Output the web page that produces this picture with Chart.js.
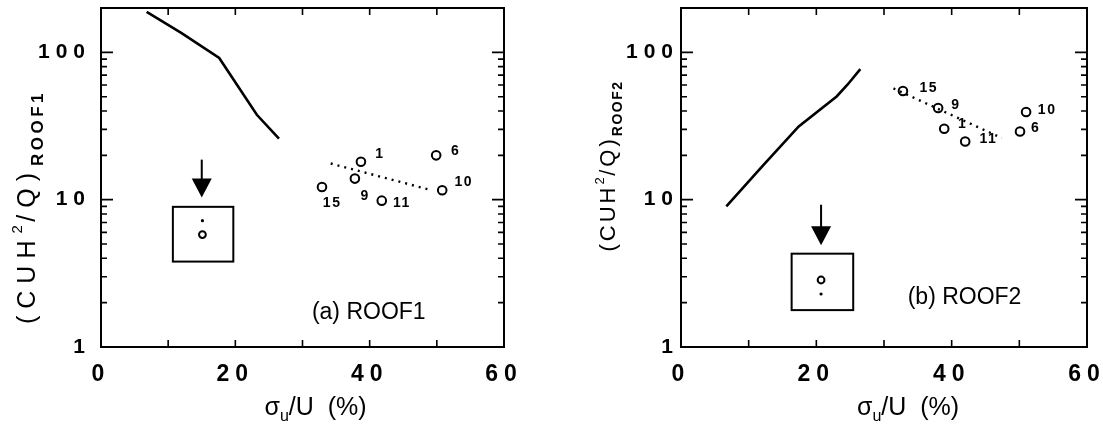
<!DOCTYPE html>
<html>
<head>
<meta charset="utf-8">
<script src="https://cdn.jsdelivr.net/npm/chart.js@4.4.0/dist/chart.umd.min.js"></script>
<style>
html,body{margin:0;padding:0;background:#fff;}
#wrap{position:relative;width:1103px;height:434px;overflow:hidden;background:#fff;}
canvas{position:absolute;top:0;}
#c1{left:0;}
#c2{left:560px;}
</style>
</head>
<body>
<div id="wrap">
<canvas id="c1" width="560" height="434"></canvas>
<canvas id="c2" width="543" height="434"></canvas>
</div>
<script>
// ---------- axis ticks ----------
const xTicks = [0, 10, 20, 30, 40, 50, 60];
const xTickLabels = ['0', '', '20', '', '40', '', '60'];
const yTicks = [1, 2, 3, 4, 5, 6, 7, 8, 9, 10, 20, 30, 40, 50, 60, 70, 80, 90, 100, 200];
const yTickLabels = ['1', '', '', '', '', '', '', '', '', '10', '', '', '', '', '', '', '', '', '100', ''];

// ---------- panel (a) ROOF1 ----------
const roof1CurveX = [6.8, 12.0, 17.6, 23.2, 26.5];
const roof1CurveY = [188, 135, 91.5, 37.7, 26];
const roof1FitX = [34.2, 49.2];
const roof1FitY = [17.6, 11.6];
const roof1CaseIds = ['15', '1', '9', '11', '6', '10'];
const roof1CaseX = [32.9, 38.7, 37.8, 41.8, 49.9, 50.8];
const roof1CaseY = [12.2, 18.1, 13.9, 9.85, 20.0, 11.6];
const roof1InsetX = [15.1, 15.1];
const roof1InsetY = [7.2, 5.8];
const roof1InsetKind = ['dot', 'circle'];

// ---------- panel (b) ROOF2 ----------
const roof2CurveX = [6.7, 12.0, 17.4, 23.0, 24.6, 26.5];
const roof2CurveY = [9.0, 16.8, 31.4, 50.2, 60.3, 77];
const roof2FitX = [31.4, 47.4];
const roof2FitY = [56.9, 26.2];
const roof2CaseIds = ['15', '9', '1', '11', '6', '10'];
const roof2CaseX = [32.8, 38.0, 38.9, 42.0, 50.1, 51.0];
const roof2CaseY = [54.6, 41.9, 30.3, 24.8, 29.0, 39.4];
const roof2InsetX = [20.7, 20.7];
const roof2InsetY = [2.85, 2.29];
const roof2InsetKind = ['circle', 'dot'];

const FONT = "'Liberation Sans', Arial, Helvetica, sans-serif";

function pairs(xs, ys) { return xs.map((x, i) => ({ x: x, y: ys[i] })); }

// annotation layout (data units)
const panels = [
  {
    canvas: 'c1', padLeft: 101, padRight: 56, yLabelPad: 10,
    curveX: roof1CurveX, curveY: roof1CurveY, fitX: roof1FitX, fitY: roof1FitY,
    caseIds: roof1CaseIds, caseX: roof1CaseX, caseY: roof1CaseY,
    insetX: roof1InsetX, insetY: roof1InsetY, insetKind: roof1InsetKind,
    caseLabelPos: [[34.3, 9.4], [41.4, 20.5], [39.2, 10.6], [44.7, 9.5], [52.7, 21.3], [53.9, 13.2]],
    insetBox: { x0: 10.7, x1: 19.7, y0: 3.8, y1: 8.94 },
    arrow: { x: 15.0, yTop: 18.7, yTip: 10.35 },
    tag: { text: '(a) ROOF1', x: 31.4, y: 1.71 },
    ySub: 'ROOF1', xTitleShift: 13,
    yTitle: { cy: 207, main: 25, mainLs: 7, sup: 15, sub: 17, subLs: 3.5, dx: -66 }
  },
  {
    canvas: 'c2', padLeft: 121, padRight: 16, yLabelPad: 2,
    curveX: roof2CurveX, curveY: roof2CurveY, fitX: roof2FitX, fitY: roof2FitY,
    caseIds: roof2CaseIds, caseX: roof2CaseX, caseY: roof2CaseY,
    insetX: roof2InsetX, insetY: roof2InsetY, insetKind: roof2InsetKind,
    caseLabelPos: [[36.5, 57.5], [40.5, 43.7], [41.5, 32.7], [45.3, 25.8], [52.3, 30.5], [54.0, 40.8]],
    insetBox: { x0: 16.35, x1: 25.45, y0: 1.78, y1: 4.3 },
    arrow: { x: 20.7, yTop: 9.24, yTip: 4.91 },
    tag: { text: '(b) ROOF2', x: 33.5, y: 2.17 },
    ySub: 'ROOF2', xTitleShift: 24,
    yTitle: { cy: 166, main: 22, mainLs: 3, sup: 13, sub: 14, subLs: 1.5, dx: -66 }
  }
];

function drawParts(ctx, parts, x0, y0) {
  let x = x0;
  parts.forEach(p => {
    ctx.font = p.f;
    ctx.letterSpacing = (p.ls || 0) + 'px';
    ctx.fillText(p.t, x, y0 + (p.dy || 0));
    x += ctx.measureText(p.t).width;
  });
}
function partsWidth(ctx, parts) {
  let w = 0;
  parts.forEach(p => { ctx.font = p.f; ctx.letterSpacing = (p.ls || 0) + 'px'; w += ctx.measureText(p.t).width; });
  return w;
}

const framePlugin = {
  id: 'frame',
  beforeDraw(chart) {
    chart.ctx.letterSpacing = '6px';
  },
  afterDraw(chart, args, opts) {
    const P = opts.panel;
    const ctx = chart.ctx, a = chart.chartArea;
    const xs = chart.scales.x, ys = chart.scales.y;
    ctx.save();
    ctx.letterSpacing = '0px';
    ctx.strokeStyle = '#000';
    ctx.fillStyle = '#000';
    // inward ticks
    ctx.lineWidth = 1.6;
    ctx.beginPath();
    xTicks.forEach(v => {
      if (v <= xs.min || v >= xs.max) return;
      const px = xs.getPixelForValue(v);
      ctx.moveTo(px, a.bottom); ctx.lineTo(px, a.bottom - 7);
      ctx.moveTo(px, a.top); ctx.lineTo(px, a.top + 7);
    });
    yTicks.forEach(v => {
      if (v <= ys.min || v >= ys.max) return;
      const py = ys.getPixelForValue(v);
      const len = (v === 10 || v === 100) ? 12 : 6;
      ctx.moveTo(a.left, py); ctx.lineTo(a.left + len, py);
      ctx.moveTo(a.right, py); ctx.lineTo(a.right - len, py);
    });
    ctx.stroke();
    // frame
    ctx.lineWidth = 2;
    ctx.strokeRect(a.left, a.top, a.right - a.left, a.bottom - a.top);

    // inset box
    const b = P.insetBox;
    const bx0 = xs.getPixelForValue(b.x0), bx1 = xs.getPixelForValue(b.x1);
    const by0 = ys.getPixelForValue(b.y1), by1 = ys.getPixelForValue(b.y0);
    ctx.lineWidth = 2;
    ctx.strokeRect(bx0, by0, bx1 - bx0, by1 - by0);

    // arrow
    const ax = xs.getPixelForValue(P.arrow.x);
    const ayTop = ys.getPixelForValue(P.arrow.yTop);
    const ayTip = ys.getPixelForValue(P.arrow.yTip);
    const headH = 19, headW = 20;
    ctx.lineWidth = 2;
    ctx.beginPath();
    ctx.moveTo(ax, ayTop); ctx.lineTo(ax, ayTip - headH + 2);
    ctx.stroke();
    ctx.beginPath();
    ctx.moveTo(ax - headW / 2, ayTip - headH);
    ctx.lineTo(ax + headW / 2, ayTip - headH);
    ctx.lineTo(ax, ayTip);
    ctx.closePath();
    ctx.fill();

    // case labels
    ctx.font = 'bold 14px ' + FONT;
    ctx.letterSpacing = '1.5px';
    ctx.textAlign = 'center';
    ctx.textBaseline = 'middle';
    P.caseIds.forEach((id, i) => {
      const pos = P.caseLabelPos[i];
      ctx.fillText(id, xs.getPixelForValue(pos[0]) + 0.75, ys.getPixelForValue(pos[1]));
    });

    // panel tag
    ctx.letterSpacing = '0px';
    ctx.font = '23px ' + FONT;
    ctx.textAlign = 'left';
    ctx.fillText(P.tag.text, xs.getPixelForValue(P.tag.x), ys.getPixelForValue(P.tag.y));

    // x title
    ctx.textBaseline = 'alphabetic';
    const xParts = [
      { t: 'σ', f: '25px ' + FONT },
      { t: 'u', f: '16px ' + FONT, dy: 6 },
      { t: '/U  (%)', f: '25px ' + FONT }
    ];
    const xw = partsWidth(ctx, xParts);
    const xc = (a.left + a.right) / 2 + P.xTitleShift;
    drawParts(ctx, xParts, xc - xw / 2, 415);

    // y title (rotated)
    const T = P.yTitle;
    const yParts = [
      { t: '(CUH', f: T.main + 'px ' + FONT, ls: T.mainLs },
      { t: '2', f: T.sup + 'px ' + FONT, dy: -Math.round(T.main * 0.5), ls: T.mainLs * 0.5 },
      { t: '/Q)', f: T.main + 'px ' + FONT, ls: T.mainLs },
      { t: P.ySub, f: 'bold ' + T.sub + 'px ' + FONT, dy: Math.round(T.main * 0.32), ls: T.subLs }
    ];
    ctx.save();
    ctx.translate(a.left + T.dx, T.cy);
    ctx.rotate(-Math.PI / 2);
    const yw = partsWidth(ctx, yParts);
    drawParts(ctx, yParts, -yw / 2, 0);
    ctx.restore();

    ctx.restore();
  }
};

function makeChart(P) {
  const ctx = document.getElementById(P.canvas).getContext('2d');
  return new Chart(ctx, {
    type: 'line',
    data: {
      datasets: [
        {
          label: 'curve',
          data: pairs(P.curveX, P.curveY),
          borderColor: '#000', borderWidth: 2.6, pointRadius: 0, tension: 0, fill: false
        },
        {
          label: 'fit',
          data: pairs(P.fitX, P.fitY),
          borderColor: '#000', borderWidth: 2.4, borderDash: [2, 5], pointRadius: 0, tension: 0, fill: false
        },
        {
          label: 'cases',
          data: pairs(P.caseX, P.caseY),
          showLine: false, pointRadius: 4.3, pointBorderWidth: 2,
          pointBorderColor: '#000', pointBackgroundColor: '#fff', borderColor: '#000'
        },
        {
          label: 'inset',
          data: pairs(P.insetX, P.insetY),
          showLine: false,
          pointRadius: c => P.insetKind[c.dataIndex] === 'dot' ? 1.6 : 3.4,
          pointBorderWidth: c => P.insetKind[c.dataIndex] === 'dot' ? 0 : 2,
          pointBackgroundColor: c => P.insetKind[c.dataIndex] === 'dot' ? '#000' : '#fff',
          pointBorderColor: '#000', borderColor: '#000'
        }
      ]
    },
    options: {
      responsive: false,
      animation: false,
      events: [],
      layout: { padding: { left: 0, right: P.padRight, top: 8, bottom: 0 } },
      plugins: { legend: { display: false }, tooltip: { enabled: false }, frame: { panel: P } },
      scales: {
        x: {
          type: 'linear', min: 0, max: 60,
          grid: { display: false, drawTicks: false, drawOnChartArea: false },
          border: { display: false },
          afterBuildTicks: s => { s.ticks = xTicks.map(v => ({ value: v })); },
          afterFit: s => { s.height = 434 - 347; s.paddingLeft = 0; s.paddingRight = 0; },
          ticks: {
            autoSkip: false, maxRotation: 0, padding: 14, color: '#000',
            font: { family: FONT, size: 23, weight: 'bold' },
            callback: (v, i) => xTickLabels[i]
          }
        },
        y: {
          type: 'logarithmic', min: 1, max: 200,
          grid: { display: false, drawTicks: false, drawOnChartArea: false },
          border: { display: false },
          afterBuildTicks: s => { s.ticks = yTicks.map(v => ({ value: v })); },
          afterFit: s => { s.width = P.padLeft; s.paddingTop = 0; s.paddingBottom = 0; },
          ticks: {
            autoSkip: false, padding: P.yLabelPad, color: '#000',
            font: { family: FONT, size: 21, weight: 'bold' },
            callback: (v, i) => yTickLabels[i]
          }
        }
      }
    },
    plugins: [framePlugin]
  });
}

panels.forEach(makeChart);
</script>
</body>
</html>
